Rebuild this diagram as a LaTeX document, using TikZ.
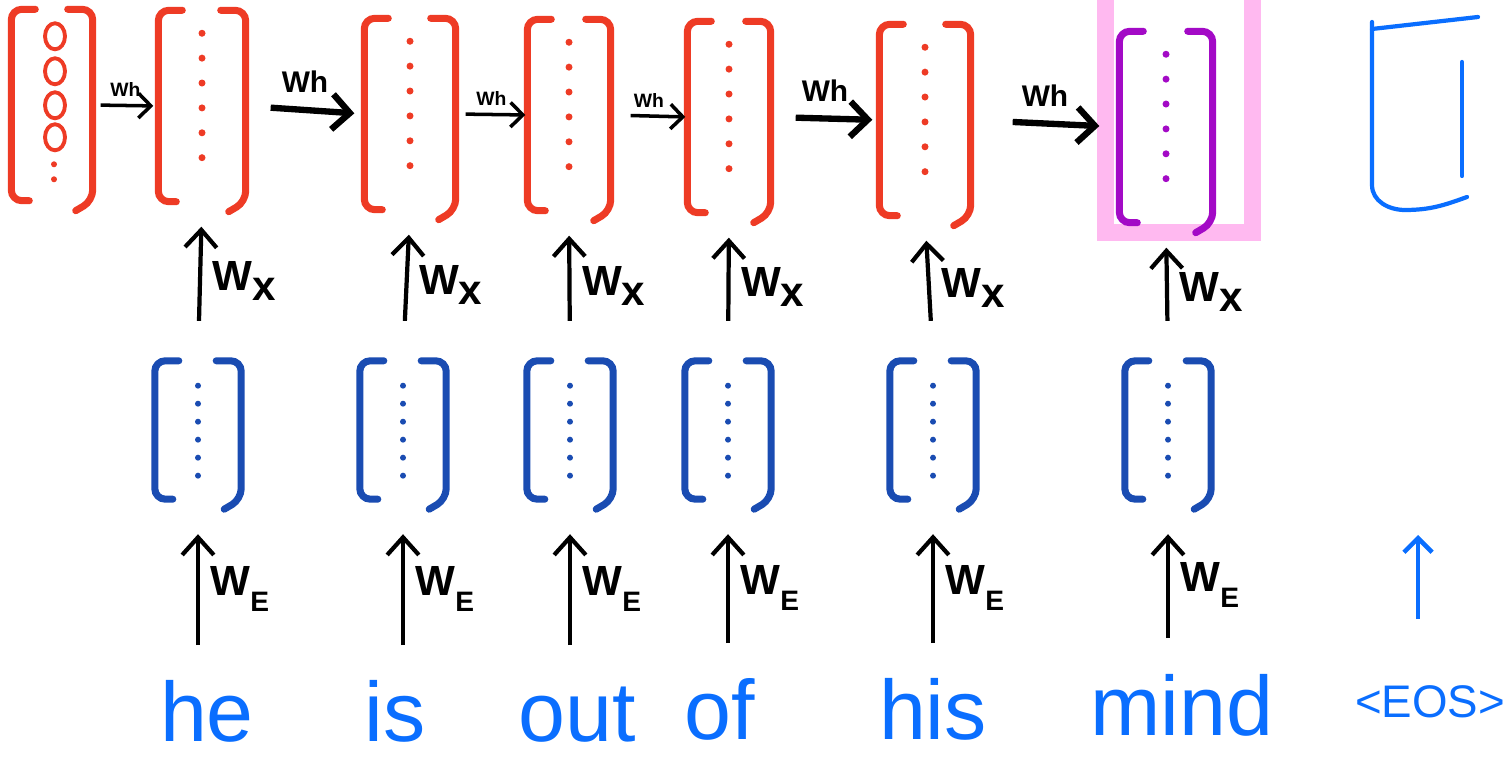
\documentclass[tikz,border=0pt]{standalone}
\usepackage{fontspec}
\setmainfont{Liberation Sans}
\usetikzlibrary{arrows.meta,calc}

\definecolor{hidred}{HTML}{EE3B25}
\definecolor{embblue}{HTML}{1A4CB2}
\definecolor{wordblue}{HTML}{0A6EFF}
\definecolor{curpurple}{HTML}{A30AC6}
\definecolor{hlpink}{HTML}{FFB9F0}

\begin{document}
\begin{tikzpicture}[x=1cm,y=-1cm,
    hvec/.style={minimum width=0.86cm,minimum height=1.9cm,inner sep=0pt},
    evec/.style={minimum width=0.85cm,minimum height=1.37cm,inner sep=0pt},
    word/.style={text=wordblue,font=\fontsize{24}{28}\selectfont,inner sep=0pt,text height=18pt,text depth=5pt},
    bracket/.style={line width=2pt,rounded corners=3pt,line cap=round},
    wgt/.style={black,line width=1.2pt,-{Straight Barb[length=5pt,width=9pt]}},
    whsmall/.style={black,line width=1pt,-{Straight Barb[length=3.5pt,width=7pt]}},
    whlarge/.style={black,line width=1.8pt,-{Straight Barb[length=5pt,width=10pt]}},
    whlabsmall/.style={font=\fontsize{5.5}{6}\selectfont\bfseries,inner sep=2pt},
    whlablarge/.style={font=\fontsize{8.5}{9}\selectfont\bfseries,inner sep=4pt},
    wlab/.style={font=\fontsize{12}{14}\selectfont\bfseries,inner sep=3pt},
    eosarrow/.style={wordblue,line width=1.3pt,-{Straight Barb[length=4pt,width=8pt]}}
  ]
  \useasboundingbox (0,0) rectangle (15.07,7.57);

  % Hidden states
  \node[hvec,minimum width=0.80cm] (h0) at (0.52,1.05) {};
  \node[hvec] (h1) at (2.02,1.06) {};
  \node[hvec,minimum width=0.90cm] (h2) at (4.10,1.14) {};
  \node[hvec,minimum width=0.82cm] (h3) at (5.69,1.15) {};
  \node[hvec,minimum width=0.82cm] (h4) at (7.29,1.17) {};
  \node[hvec,minimum width=0.90cm] (h5) at (9.25,1.20) {};
  \node[hvec,minimum width=0.92cm] (h6) at (11.66,1.27) {};

  % Highlight of the last hidden state
  \draw[hlpink,line width=4.8pt] ($(h6.north west)+(-0.14,-0.52)$) rectangle ($(h6.south east)+(0.40,0.10)$);

  % Word embeddings
  \node[evec] (e1) at (1.98,4.30) {};
  \node[evec] (e2) at (4.03,4.30) {};
  \node[evec] (e3) at (5.70,4.30) {};
  \node[evec] (e4) at (7.28,4.30) {};
  \node[evec] (e5) at (9.33,4.30) {};
  \node[evec] (e6) at (11.68,4.30) {};

  % Brackets round every vector
  \foreach \n/\c in {h0/hidred,h1/hidred,h2/hidred,h3/hidred,h4/hidred,h5/hidred,h6/curpurple,
                     e1/embblue,e2/embblue,e3/embblue,e4/embblue,e5/embblue,e6/embblue} {
    \draw[bracket,\c] ([xshift=0.24cm]\n.north west) -- (\n.north west) -- (\n.south west) -- ([xshift=0.18cm]\n.south west);
    \draw[bracket,\c] ([xshift=-0.25cm]\n.north east) -- (\n.north east) -- (\n.south east) -- ([xshift=-0.17cm,yshift=-0.1cm]\n.south east);
  }

  % Entries
  \foreach \yy in {0.27,0.62,0.96,1.28}
    \draw[hidred,line width=1.1pt] ($(h0.north)+(0.03,\yy)$) ellipse (0.10 and 0.13);
  \foreach \yy in {1.55,1.70}
    \fill[hidred] ($(h0.north)+(0.02,\yy)$) circle (0.03);
  \foreach \n/\c in {h1/hidred,h2/hidred,h3/hidred,h4/hidred,h5/hidred,h6/curpurple}
    \foreach \k in {0,...,5}
      \fill[\c] ($(\n.north)!0.12+0.13*\k!(\n.south)$) circle (0.035);
  \foreach \n in {e1,e2,e3,e4,e5,e6}
    \foreach \k in {0,...,5}
      \fill[embblue] ($(\n.north)!0.18+0.13*\k!(\n.south)$) circle (0.03);

  % Output vector (only partly drawn)
  \draw[wordblue,line width=1.2pt,line cap=round] (13.72,0.22) -- (13.72,1.85)
    to[out=-90,in=180] (14.05,2.10) to[out=0,in=200] (14.67,1.97);
  \draw[wordblue,line width=1.2pt,line cap=round] (13.72,0.29) -- (14.78,0.17);
  \draw[wordblue,line width=1.2pt,line cap=round] (14.62,0.62) -- (14.62,1.76);

  % Input words
  \node[word,anchor=base] (w1) at (2.07,7.42) {he};
  \node[word,anchor=base] (w2) at (3.95,7.42) {is};
  \node[word,anchor=base] (w3) at (5.77,7.42) {out};
  \node[word,anchor=base] (w4) at (7.20,7.40) {of};
  \node[word,anchor=base] (w5) at (9.33,7.40) {his};
  \node[word,anchor=base] (w6) at (11.82,7.35) {mind};
  \node[word,font=\fontsize{13}{15}\selectfont,anchor=base] (eos) at (14.30,7.18) {<EOS>};

  % Recurrent connections
  \foreach \a/\b/\ss/\se/\ar/\lb in {h0/h1/0.08cm/0.05cm/whsmall/whlabsmall,
                                     h1/h2/0.25cm/0.10cm/whlarge/whlablarge,
                                     h2/h3/0.10cm/0.02cm/whsmall/whlabsmall,
                                     h3/h4/0.20cm/0.02cm/whsmall/whlabsmall,
                                     h4/h5/0.25cm/0.07cm/whlarge/whlablarge,
                                     h5/h6/0.42cm/0.20cm/whlarge/whlablarge}
    \draw[\ar,shorten <=\ss,shorten >=\se] (\a.east) -- node[above,\lb] {Wh} (\b.west);

  % Input and embedding weights
  \foreach \i in {1,...,6} {
    \draw[wgt,shorten <=0.4cm,shorten >=0.25cm] (e\i.north) -- node[right,wlab] {W\raisebox{-2.8pt}{x}} (h\i.south);
    \draw[wgt,shorten <=0.33cm,shorten >=0.35cm] (w\i.north -| e\i) -- node[right,wlab] {W\raisebox{-4.5pt}{\fontsize{8}{9}\selectfont\bfseries E}} (e\i.south);
  }

  % End of sentence
  \coordinate (eostip) at (14.18,5.35);
  \draw[eosarrow,shorten <=0.35cm] (eos.north -| eostip) -- (eostip);
\end{tikzpicture}
\end{document}
